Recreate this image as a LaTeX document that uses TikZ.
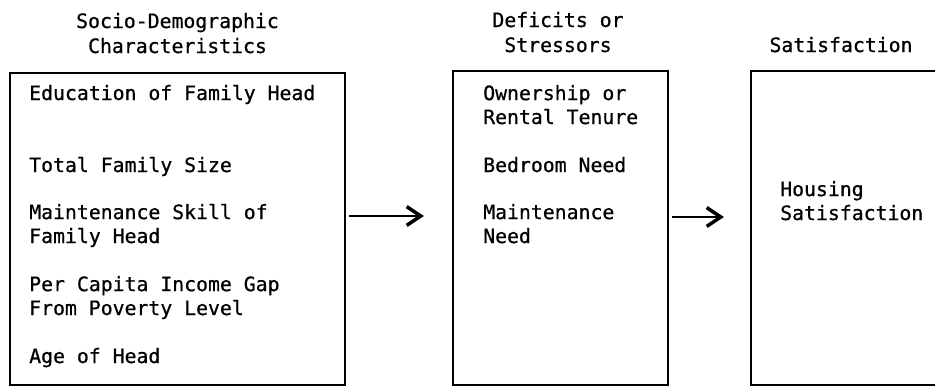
\documentclass[tikz,border=0pt]{standalone}
\usepackage{fontspec}
\setmonofont[UprightFeatures={FakeBold=0.7}]{DejaVu Sans Mono}
\usetikzlibrary{arrows.meta}

\tikzset{
	blk/.style={draw, line width=1.8pt, inner sep=0pt},
	lbl/.style={anchor=base west, inner sep=0pt, align=left, font=\ttfamily\fontsize{16.9}{20.4}\selectfont},
	ttl/.style={anchor=base, inner sep=0pt, align=center, font=\ttfamily\fontsize{16.9}{20.4}\selectfont},
	flow/.style={line width=1.8pt, -{Straight Barb[length=12pt,width=16pt,line width=3pt]}}
}

\begin{document}
\begin{tikzpicture}[x=0.03cm, y=-0.03cm]
				\useasboundingbox (0,0) rectangle (935,387);
				\node[blk, minimum width=10.05cm, minimum height=9.36cm] (sdc) at (177.5,229) {};
				\node[blk, minimum width=6.45cm, minimum height=9.42cm] (dfs) at (560.5,228) {};
				\node[blk, minimum width=5.58cm, minimum height=9.42cm] (sat) at (844,228) {};
				
				\node[ttl] (sdcT) at (177.5,28) {Socio-Demographic};
				\node[ttl] (sdcT2) at (177.5,53) {Characteristics};
				\node[ttl] (dfsT) at (558,27) {Deficits or};
				\node[ttl] (dfsT2) at (558,52) {Stressors};
				\node[ttl] (satT) at (841,52) {Satisfaction};
				
				\node[lbl] (edu) at (29,100) {Education of Family Head};
				\node[lbl] (siz) at (29,172) {Total Family Size};
				\node[lbl] (skl) at (29,243) {Maintenance Skill of\\Family Head};
				\node[lbl] (gap) at (29,315) {Per Capita Income Gap\\From Poverty Level};
				\node[lbl] (age) at (29,363) {Age of Head};
				
				\node[lbl] (own) at (483,124) {Ownership or\\Rental Tenure};
				\node[lbl] (bed) at (483,172) {Bedroom Need};
				\node[lbl] (mnt) at (483,243) {Maintenance\\Need};
				
				\node[lbl] (hou) at (780,220) {Housing\\Satisfaction};
				
				\draw[flow, shorten <=0.1cm, shorten >=0.84cm] (sdc.east |- 0,216) -- (dfs.west |- 0,216);
				\draw[flow, shorten <=0.1cm, shorten >=0.78cm] (dfs.east |- 0,217) -- (sat.west |- 0,217);
			\end{tikzpicture}
\end{document}
